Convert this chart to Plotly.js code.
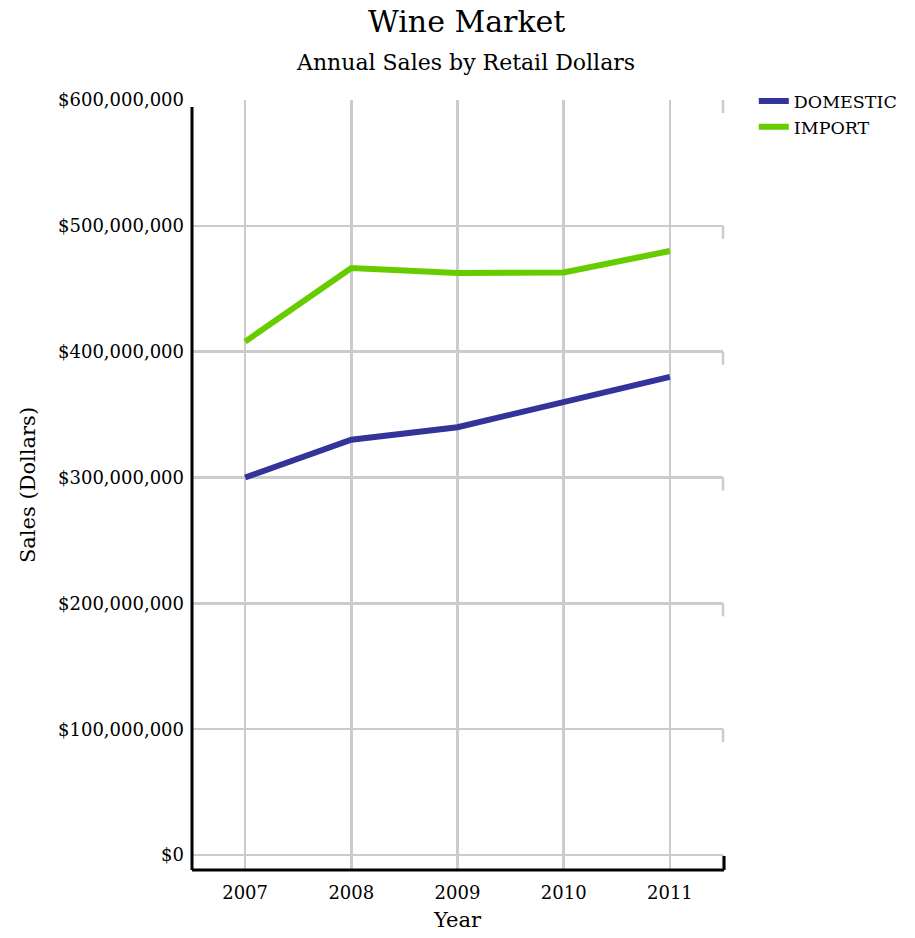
<!DOCTYPE html>
<html>
<head>
<meta charset="utf-8">
<script src="https://cdn.plot.ly/plotly-3.0.1.min.js"></script>
<style>html,body{margin:0;padding:0;background:#fff;}#chart{width:915px;height:938px;}</style>
</head>
<body>
<div id="chart"></div>
<script>
const years = [2007, 2008, 2009, 2010, 2011];
const domestic = [300000000, 330000000, 340000000, 360000000, 380000000];
const imports = [408000000, 466500000, 462500000, 463000000, 480000000];
const yTickVals = [0, 100000000, 200000000, 300000000, 400000000, 500000000, 600000000];
const yTickText = ['$0', '$100,000,000', '$200,000,000', '$300,000,000', '$400,000,000', '$500,000,000', '$600,000,000'];
const titleText = 'Wine Market';
const subtitleText = 'Annual Sales by Retail Dollars';

const FONT = 'DejaVu Serif, serif';
const yMin = -11900000, yMax = 600000000;
const pxPerUnit = 770 / (yMax - yMin);
const hook = 13 / pxPerUnit;

const shapes = [];
yTickVals.forEach(v => {
  shapes.push({type: 'line', xref: 'paper', yref: 'y', x0: 1, x1: 1, y0: v, y1: v - hook,
    line: {color: '#cccccc', width: 2.5}, layer: 'below'});
});
shapes.push({type: 'line', xref: 'paper', yref: 'paper', x0: 0, x1: 0, y0: 0, y1: 1 - 7/770,
  line: {color: '#000', width: 3}});
shapes.push({type: 'line', xref: 'paper', yref: 'paper', x0: 0, x1: 1.002, y0: 0, y1: 0,
  line: {color: '#000', width: 3}});
shapes.push({type: 'line', xref: 'paper', yref: 'paper', x0: 1.002, x1: 1.002, y0: 0, y1: 14/770,
  line: {color: '#000', width: 3}});

const data = [
  {x: years, y: domestic, name: 'DOMESTIC', type: 'scatter', mode: 'lines',
   line: {color: '#333399', width: 6}},
  {x: years, y: imports, name: 'IMPORT', type: 'scatter', mode: 'lines',
   line: {color: '#66cc00', width: 6}}
];

const layout = {
  width: 915, height: 938,
  margin: {l: 192, r: 192, t: 100, b: 68},
  paper_bgcolor: '#fff', plot_bgcolor: '#fff',
  font: {family: FONT, size: 17.5, color: '#000'},
  title: {
    text: titleText,
    font: {family: FONT, size: 30, color: '#000'},
    xref: 'container', x: 0.51, xanchor: 'center',
    yref: 'container', y: 1 - 21/938, yanchor: 'middle'
  },
  annotations: [{
    text: subtitleText, xref: 'paper', yref: 'paper',
    x: (466 - 192) / 531, y: 1 + 38/770, xanchor: 'center', yanchor: 'middle',
    showarrow: false, font: {family: FONT, size: 22, color: '#000'}
  }],
  xaxis: {
    range: [2006.5, 2011.5],
    tickvals: years, ticktext: years.map(String),
    showgrid: true, gridcolor: '#cccccc', gridwidth: 2.5,
    zeroline: false, showline: false, ticks: '',
    ticklabelstandoff: 10,
    tickfont: {family: FONT, size: 18},
    title: {text: 'Year', font: {family: FONT, size: 21}, standoff: 10}
  },
  yaxis: {
    range: [yMin, yMax],
    tickvals: yTickVals, ticktext: yTickText,
    showgrid: true, gridcolor: '#cccccc', gridwidth: 2.5,
    zeroline: false, showline: false, ticks: '',
    ticklabelstandoff: 7,
    tickfont: {family: FONT, size: 18},
    title: {text: 'Sales (Dollars)', font: {family: FONT, size: 21}, standoff: 16}
  },
  legend: {
    x: 1.058, xanchor: 'left', y: 1.022, yanchor: 'top',
    font: {family: FONT, size: 17.5}, tracegroupgap: 0,
    bgcolor: 'rgba(0,0,0,0)'
  },
  showlegend: true,
  shapes: shapes
};

Plotly.newPlot('chart', data, layout, {displayModeBar: false, staticPlot: true});
</script>
</body>
</html>
